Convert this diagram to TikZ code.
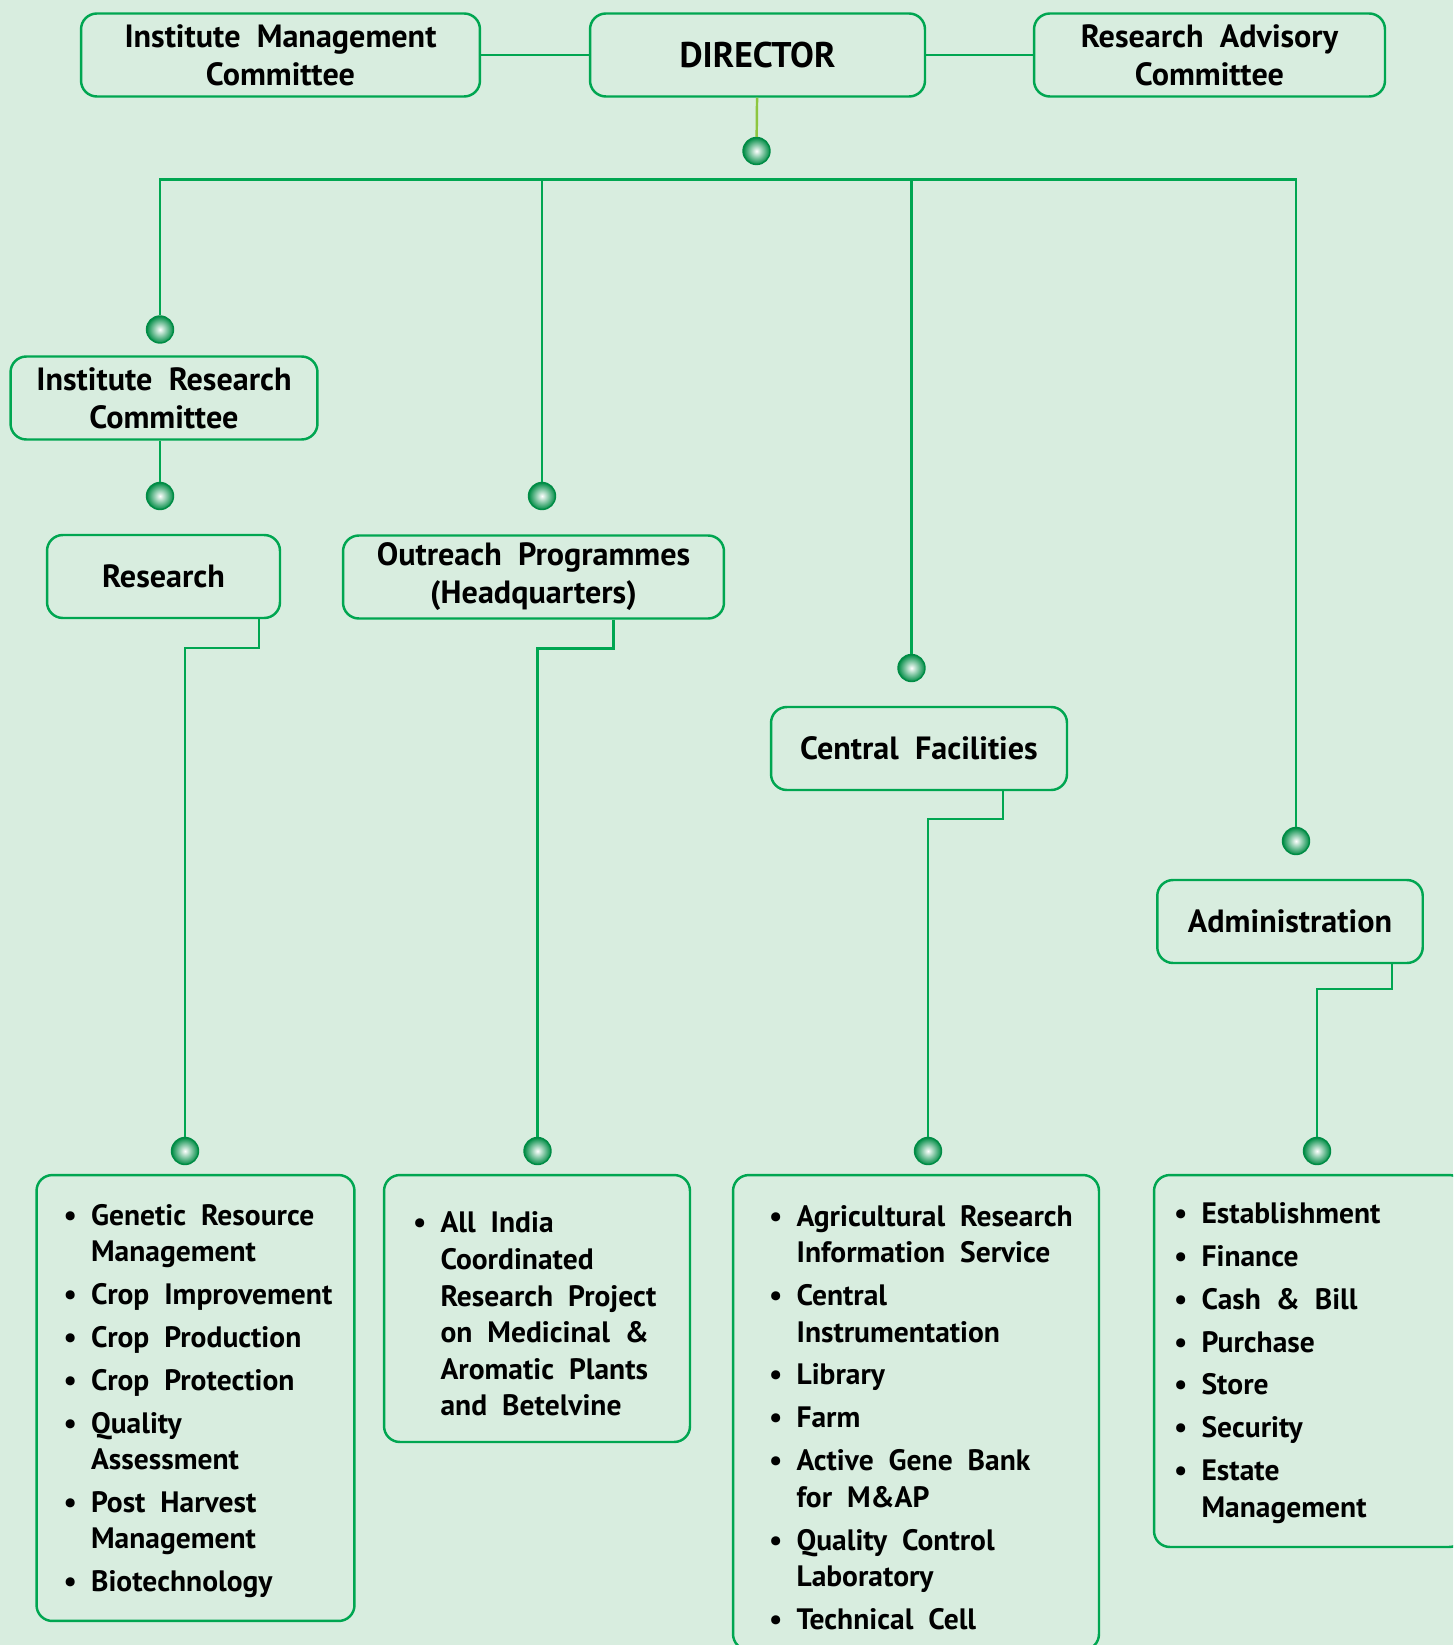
\documentclass[tikz,border=0pt]{standalone}
\usepackage{fontspec}
\setmainfont[WordSpace=2.0]{PT Sans}
\usetikzlibrary{positioning}
\definecolor{ORGgreen}{HTML}{00A651}
\definecolor{ORGdark}{HTML}{008C45}
\definecolor{ORGlime}{HTML}{8DC63F}
\definecolor{ORGbg}{HTML}{D8EDDF}
\newcommand{\itm}{\makebox[0.93em][l]{\textbullet}}
\newcommand{\ind}{\hspace*{0.93em}}

\begin{document}
\begin{tikzpicture}[x=0.02cm, y=-0.02cm,
    box/.style={draw=ORGgreen, line width=1.4pt, rounded corners=9pt, fill=ORGbg,
      align=center, inner sep=0pt, minimum height=1.66cm,
      font=\fontsize{18.3}{21.6}\selectfont\bfseries},
    listbox/.style={draw=ORGgreen, line width=1.4pt, rounded corners=9pt, fill=ORGbg},
    listtext/.style={align=left, inner sep=0pt, font=\fontsize{16.8}{20.8}\selectfont\bfseries},
    joint/.style={circle, draw=ORGdark, line width=0.8pt, inner color=white,
      outer color=ORGdark, minimum size=0.54cm, inner sep=0pt},
    link/.style={draw=ORGgreen, line width=1.4pt}]
    \path[use as bounding box] (0,0) rectangle (1453,1645);
    \clip (0,0) rectangle (1453,1645);
    \fill[ORGbg] (0,0) rectangle (1453,1645);

    % top row
    \node[box, minimum width=7.98cm] (imc) at (280.5,55) {Institute Management\\Committee};
    \node[box, minimum width=6.7cm, font=\fontsize{20.3}{24}\selectfont\bfseries] (director) at (757.5,55) {DIRECTOR};
    \node[box, minimum width=7.02cm] (rac) at (1209.5,55) {Research Advisory\\Committee};
    \draw[link] (imc) -- (director);
    \draw[link] (director) -- (rac);

    % joints
    \node[joint] (jdir) at (756.5,151) {};
    \node[joint] (jirc) at (160,329.5) {};
    \node[joint] (jres) at (160,496) {};
    \node[joint] (jout) at (542,496) {};
    \node[joint] (jcf) at (911.5,668) {};
    \node[joint] (jadm) at (1296,841) {};
    \node[joint] (jresl) at (185,1151) {};
    \node[joint] (joutl) at (537.5,1151) {};
    \node[joint] (jcfl) at (928,1151) {};
    \node[joint] (jadml) at (1317,1151) {};

    \draw[ORGlime, line width=1.4pt] (director) -- (jdir);
    \coordinate (busL) at (160,179.5);
    \coordinate (busR) at (1296,179.5);
    \draw[link] (jirc) -- (busL) -- (busR) -- (jadm);
    \draw[link] (jout) -- (jout |- busL);
    \draw[link] (jcf) -- (jcf |- busL);

    % units
    \node[box, minimum width=6.14cm] (irc) at (164,398) {Institute Research\\Committee};
    \node[box, minimum width=4.66cm] (research) at (163.5,576.5) {Research};
    \node[box, minimum width=7.62cm] (outreach) at (533.5,577) {Outreach Programmes\\(Headquarters)};
    \node[box, minimum width=5.92cm] (central) at (919,748.5) {Central Facilities};
    \node[box, minimum width=5.31cm] (admin) at (1290,921.5) {Administration};
    \draw[link] (irc.south -| jres) -- (jres);

    \draw[link] (research.south) ++(95.5,0) -- ++(0,29) -| (jresl);
    \draw[link] (outreach.south) ++(80,0) -- ++(0,29) -| (joutl);
    \draw[link] (central.south) ++(84,0) -- ++(0,28) -| (jcfl);
    \draw[link] (admin.south) ++(102,0) -- ++(0,25) -| (jadml);

    % lists
    \node[listbox, minimum width=6.36cm, minimum height=8.92cm] (reslist) at (195.5,1398) {};
    \node[listbox, minimum width=6.12cm, minimum height=5.34cm] (outlist) at (537,1308.5) {};
    \node[listbox, minimum width=7.32cm, minimum height=9.5cm] (cflist) at (916,1412.5) {};
    \node[listbox, minimum width=6.22cm, minimum height=7.44cm] (admlist) at (1309.5,1361) {};

    \node[listtext, right=0.56cm of reslist.west, yshift=-0.06cm] (restext) {\itm Genetic Resource\\ \ind Management\\[3.6pt]
      \itm Crop Improvement\\[3.6pt] \itm Crop Production\\[3.6pt] \itm Crop Protection\\[3.6pt]
      \itm Quality\\ \ind Assessment\\[3.6pt] \itm Post Harvest\\ \ind Management\\[3.6pt]
      \itm Biotechnology};
    \node[listtext, right=0.6cm of outlist.west, yshift=-0.11cm] (outtext) {\itm All India\\
      \ind Coordinated\\ \ind Research Project\\ \ind on Medicinal \&\\ \ind Aromatic Plants\\
      \ind and Betelvine};
    \node[listtext, right=0.74cm of cflist.west, yshift=-0.1cm] (cftext) {\itm Agricultural Research\\
      \ind Information Service\\[3.6pt] \itm Central\\ \ind Instrumentation\\[3.6pt]
      \itm Library\\[3.6pt] \itm Farm\\[3.6pt] \itm Active Gene Bank\\ \ind for M\&AP\\[3.6pt]
      \itm Quality Control\\ \ind Laboratory\\[3.6pt] \itm Technical Cell};
    \node[listtext, right=0.42cm of admlist.west, yshift=-0.04cm] (admtext) {\itm Establishment\\[3.6pt]
      \itm Finance\\[3.6pt] \itm Cash \& Bill\\[3.6pt] \itm Purchase\\[3.6pt] \itm Store\\[3.6pt]
      \itm Security\\[3.6pt] \itm Estate\\ \ind Management};
  \end{tikzpicture}
\end{document}
